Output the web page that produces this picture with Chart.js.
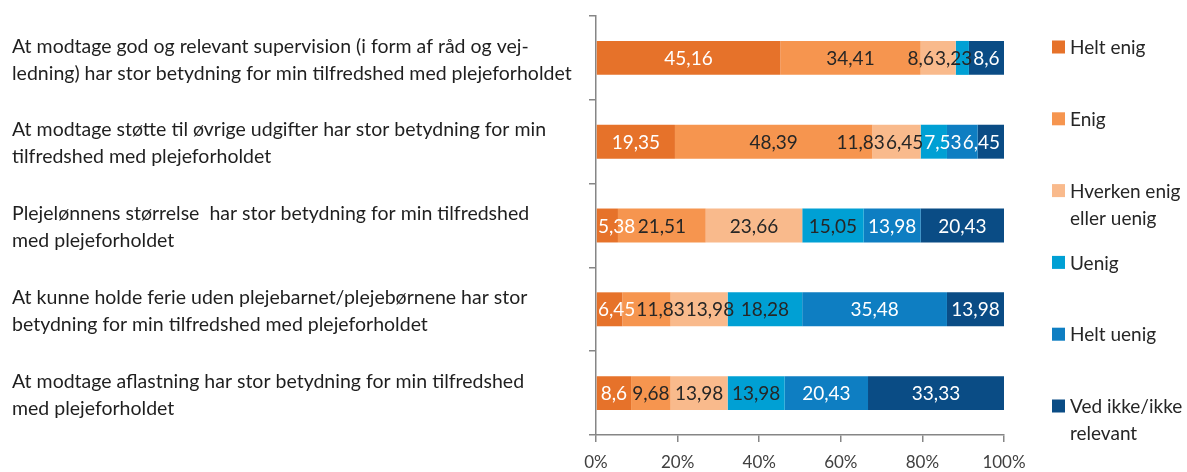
<!DOCTYPE html>
<html><head><meta charset="utf-8">
<script src="https://cdn.jsdelivr.net/npm/chart.js@4"></script>
<style>html,body{margin:0;padding:0;background:#fff}#wrap{width:1187px;height:472px;position:relative}</style>
</head><body><div id="wrap"><canvas id="c" width="1187" height="472"></canvas></div>
<script>
const categories = [
  ['At modtage god og relevant supervision (i form af råd og vej-', 'ledning) har stor betydning for min tilfredshed med plejeforholdet'],
  ['At modtage støtte til øvrige udgifter har stor betydning for min', 'tilfredshed med plejeforholdet'],
  ['Plejelønnens størrelse  har stor betydning for min tilfredshed', 'med plejeforholdet'],
  ['At kunne holde ferie uden plejebarnet/plejebørnene har stor', 'betydning for min tilfredshed med plejeforholdet'],
  ['At modtage aflastning har stor betydning for min tilfredshed', 'med plejeforholdet']
];
const seriesNames = ['Helt enig', 'Enig', 'Hverken enig eller uenig', 'Uenig', 'Helt uenig', 'Ved ikke/ikke relevant'];
const legendLines = [['Helt enig'], ['Enig'], ['Hverken enig', 'eller uenig'], ['Uenig'], ['Helt uenig'], ['Ved ikke/ikke', 'relevant']];
const heltEnig  = [45.16, 19.35, 5.38, 6.45, 8.6];
const enig      = [34.41, 48.39, 21.51, 11.83, 9.68];
const hverken   = [8.6, 11.83, 23.66, 13.98, 13.98];
const uenig     = [3.23, 6.45, 15.05, 18.28, 13.98];
const heltUenig = [0, 7.53, 13.98, 35.48, 20.43];
const vedIkke   = [8.6, 6.45, 20.43, 13.98, 33.33];
const xTickValues = [0, 20, 40, 60, 80, 100];

const seriesColors = ['#E6722A', '#F6954F', '#F9BA8C', '#00A0D4', '#0E7EC2', '#0A4C85'];
const labelColors = ['#FFFFFF', '#262626', '#262626', '#262626', '#FFFFFF', '#FFFFFF'];
const seriesValues = [heltEnig, enig, hverken, uenig, heltUenig, vedIkke];

const LEFT_PAD = 12;

const fixAxisPlugin = {
  id: 'fixAxis',
  afterLayout(chart) {
    const y = chart.scales.y;
    y.left = LEFT_PAD;
    y.right = chart.chartArea.left;
    y.width = y.right - y.left;
  }
};

const labelPlugin = {
  id: 'segLabels',
  afterDatasetsDraw(chart) {
    const ctx = chart.ctx, area = chart.chartArea;
    ctx.save();
    ctx.font = '19px Lato';
    ctx.textBaseline = 'middle';
    ctx.textAlign = 'left';
    const minL = area.left + 2, maxR = area.right - 4, gap = 1;
    for (let i = 0; i < chart.data.labels.length; i++) {
      const items = [];
      chart.data.datasets.forEach((ds, j) => {
        const v = ds.data[i];
        if (!v) return;
        const bar = chart.getDatasetMeta(j).data[i];
        const text = String(v).replace('.', ',');
        const w = ctx.measureText(text).width;
        const cx = (bar.x + bar.base) / 2;
        items.push({ text, w, l: cx - w / 2, y: bar.y, color: labelColors[j] });
      });
      if (!items.length) continue;
      const last = items[items.length - 1];
      if (last.l + last.w > maxR) last.l = maxR - last.w;
      for (let k = items.length - 2; k >= 0; k--) {
        const nx = items[k + 1];
        if (items[k].l + items[k].w > nx.l - gap) items[k].l = nx.l - gap - items[k].w;
      }
      if (items[0].l < minL) items[0].l = minL;
      for (let k = 1; k < items.length; k++) {
        const p = items[k - 1];
        if (items[k].l < p.l + p.w + gap) items[k].l = p.l + p.w + gap;
      }
      items.forEach(it => { ctx.fillStyle = it.color; ctx.fillText(it.text, it.l, it.y + 1); });
    }
    ctx.restore();
  }
};

const legendPlugin = {
  id: 'sideLegend',
  afterDraw(chart) {
    const ctx = chart.ctx, a = chart.chartArea;
    const x0 = a.right + 48;
    const y0 = a.top + 31;
    const step = (a.bottom - a.top - 60) / 5;
    ctx.save();
    ctx.font = '19px Lato';
    ctx.textBaseline = 'middle';
    ctx.textAlign = 'left';
    legendLines.forEach((lines, i) => {
      const y = y0 + i * step;
      ctx.fillStyle = seriesColors[i];
      ctx.fillRect(x0, y - 6.5, 13, 13);
      ctx.fillStyle = '#262626';
      lines.forEach((t, k) => ctx.fillText(t, x0 + 18, y + 1 + k * 27));
    });
    ctx.restore();
  }
};

const datasets = seriesNames.map((name, j) => ({
  label: name,
  data: seriesValues[j],
  backgroundColor: seriesColors[j],
  borderWidth: 0,
  categoryPercentage: 1,
  barPercentage: 0.405
}));

new Chart(document.getElementById('c'), {
  type: 'bar',
  data: { labels: categories, datasets },
  plugins: [fixAxisPlugin, labelPlugin, legendPlugin],
  options: {
    indexAxis: 'y',
    responsive: false,
    animation: false,
    devicePixelRatio: 1,
    layout: { padding: { left: LEFT_PAD, right: 183, top: 16, bottom: 0 } },
    plugins: { legend: { display: false }, tooltip: { enabled: false } },
    scales: {
      y: {
        type: 'category',
        stacked: true,
        offset: true,
        grid: { offset: true, drawOnChartArea: false, drawTicks: true, tickLength: 7, color: '#868686', lineWidth: 1.5 },
        border: { color: '#868686', width: 1.5 },
        ticks: { crossAlign: 'far', font: { family: 'Lato', size: 19.5, lineHeight: 1.385 }, color: '#1f1f1f', labelOffset: 2, autoSkip: false },
        afterFit(s) { s.width = 584; s.paddingTop = 0; s.paddingBottom = 0; }
      },
      x: {
        type: 'linear',
        stacked: true,
        min: 0,
        max: 100,
        afterBuildTicks(s) { s.ticks = xTickValues.map(v => ({ value: v })); },
        grid: { drawOnChartArea: false, drawTicks: true, tickLength: 7, color: '#868686', lineWidth: 1.5 },
        border: { color: '#868686', width: 1.5 },
        ticks: { callback: v => v + '%', font: { family: 'Lato', size: 17 }, color: '#404040', padding: 10, maxRotation: 0 },
        afterFit(s) { s.height = 37; s.paddingLeft = 0; s.paddingRight = 0; }
      }
    }
  }
});
</script>
</body></html>
